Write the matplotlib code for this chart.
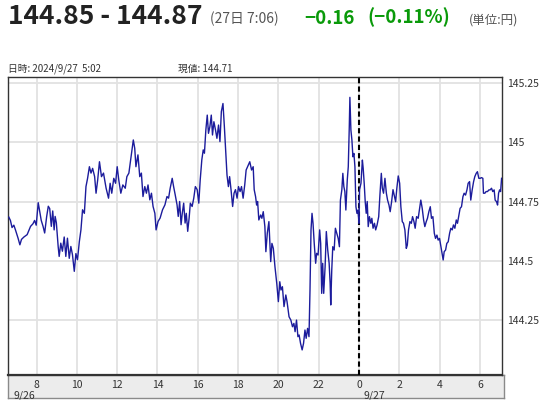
import matplotlib
matplotlib.use("Agg")
import matplotlib.pyplot as plt
import matplotlib.transforms as mtransforms

plt.rcParams['font.family'] = ['Noto Sans CJK JP', 'DejaVu Sans']

# hours counted from 2024/9/26 0:00
hours = [
    6.62, 6.70, 6.78, 6.87, 6.95, 7.08, 7.17, 7.25, 7.37, 7.53, 7.70, 7.82, 7.90, 7.98,
    8.08, 8.15, 8.23, 8.32, 8.40, 8.50, 8.58, 8.65, 8.73, 8.80, 8.87, 8.92, 8.98,
    9.07, 9.12, 9.20, 9.28, 9.37, 9.45, 9.53, 9.62, 9.70, 9.78, 9.87, 9.95,
    10.03, 10.12, 10.20, 10.28, 10.37, 10.45, 10.53, 10.62, 10.70, 10.78, 10.88, 10.95,
    11.03, 11.12, 11.22, 11.32, 11.45, 11.57, 11.65, 11.73, 11.83, 11.92,
    12.00, 12.08, 12.18, 12.28, 12.40, 12.48, 12.58,
    12.67, 12.80, 12.87, 12.93, 13.03, 13.12, 13.20, 13.28, 13.37, 13.45, 13.53, 13.62,
    13.70, 13.78, 13.87, 13.93, 14.03, 14.13, 14.25, 14.37, 14.47, 14.55, 14.63, 14.73,
    14.80, 14.88, 14.97, 15.03, 15.10, 15.17, 15.23, 15.30, 15.37, 15.43, 15.50, 15.57,
    15.63, 15.72, 15.80, 15.88, 15.97, 16.05, 16.12, 16.20, 16.27, 16.33, 16.40, 16.47,
    16.53, 16.60, 16.67, 16.73, 16.80, 16.88, 16.95, 17.03, 17.10, 17.17, 17.25, 17.32,
    17.38, 17.45, 17.52, 17.58, 17.65, 17.73, 17.80, 17.87, 17.95, 18.02, 18.10, 18.17,
    18.25, 18.33, 18.40, 18.47,
    18.58, 18.67, 18.75, 18.80, 18.87, 18.92, 18.97, 19.03, 19.12, 19.18, 19.25, 19.33,
    19.38, 19.45, 19.53, 19.62, 19.68, 19.75, 19.83, 19.92, 20.00, 20.07, 20.13, 20.20,
    20.28, 20.37, 20.43, 20.53, 20.62, 20.70, 20.77, 20.83, 20.90, 20.97, 21.03, 21.10,
    21.18, 21.25, 21.32, 21.38, 21.45, 21.52, 21.57, 21.62, 21.67, 21.72, 21.78, 21.85,
    21.90, 21.97, 22.05, 22.10, 22.15, 22.20, 22.25, 22.32, 22.38, 22.45, 22.52, 22.57,
    22.60, 22.65, 22.70, 22.77, 22.83, 22.90, 22.97, 23.03, 23.08, 23.15, 23.20, 23.25,
    23.30, 23.35, 23.42, 23.47, 23.52, 23.55, 23.60, 23.65, 23.70, 23.75, 23.80, 23.85,
    23.90, 23.95, 24.00,
    24.03, 24.10, 24.17, 24.21, 24.26, 24.31, 24.36, 24.41, 24.46, 24.52, 24.59, 24.64,
    24.70, 24.77, 24.83, 24.90, 24.98, 25.04, 25.11, 25.16, 25.22, 25.29, 25.36, 25.42,
    25.49, 25.55, 25.62, 25.69, 25.75, 25.82, 25.88, 25.95, 26.02, 26.08, 26.15, 26.21,
    26.28, 26.35, 26.40, 26.46, 26.53, 26.60, 26.66, 26.73, 26.79, 26.86, 26.94, 27.01,
    27.07, 27.14, 27.21, 27.27, 27.34, 27.40, 27.47, 27.54, 27.60, 27.67, 27.74, 27.80,
    27.87, 27.93, 28.00, 28.07, 28.13, 28.18, 28.23, 28.30, 28.36, 28.43, 28.50, 28.56,
    28.63, 28.69, 28.76, 28.83, 28.89, 28.96, 29.02, 29.09, 29.16, 29.22, 29.29, 29.36,
    29.42, 29.49, 29.55, 29.62, 29.69, 29.75, 29.82, 29.88, 29.95, 30.02, 30.08, 30.15,
    30.18, 30.25, 30.31, 30.38, 30.45, 30.51, 30.58, 30.64, 30.71, 30.76, 30.83, 30.88,
    30.93, 30.98, 31.03, 31.08,
]

prices = [
    144.684, 144.670, 144.640, 144.650, 144.630, 144.595, 144.567, 144.590, 144.600, 144.610, 144.645, 144.656, 144.670, 144.650,
    144.745, 144.710, 144.670, 144.645, 144.617, 144.687, 144.730, 144.720, 144.645, 144.710, 144.630, 144.687, 144.660,
    144.560, 144.518, 144.574, 144.540, 144.600, 144.518, 144.595, 144.510, 144.560, 144.525, 144.455, 144.530,
    144.504, 144.580, 144.630, 144.715, 144.700, 144.813, 144.848, 144.897, 144.870, 144.890, 144.855, 144.785,
    144.840, 144.918, 144.855, 144.870, 144.806, 144.764, 144.827, 144.785, 144.848, 144.827,
    144.897, 144.840, 144.785, 144.820, 144.806, 144.855, 144.870,
    144.926, 145.010, 144.975, 144.897, 144.947, 144.855, 144.870, 144.771, 144.813, 144.785, 144.820, 144.757,
    144.785, 144.729, 144.700, 144.630, 144.666, 144.680, 144.715, 144.736, 144.771, 144.764, 144.806, 144.848,
    144.813, 144.778, 144.736, 144.687, 144.750, 144.652, 144.700, 144.743, 144.659, 144.700, 144.624, 144.680,
    144.743, 144.729, 144.764, 144.813, 144.800, 144.743, 144.841, 144.926, 144.968, 144.954, 145.052, 145.115,
    145.038, 145.066, 145.115, 145.031, 145.087, 145.052, 145.017, 145.073, 145.003, 145.130, 145.164, 145.066,
    144.968, 144.862, 144.813, 144.855, 144.800, 144.729, 144.785, 144.800, 144.764, 144.813, 144.792, 144.813,
    144.764, 144.820, 144.883, 144.897,
    144.918, 144.883, 144.897, 144.800, 144.770, 144.735, 144.750, 144.672, 144.693, 144.679, 144.707, 144.644,
    144.538, 144.616, 144.665, 144.496, 144.573, 144.552, 144.475, 144.404, 144.327, 144.411, 144.376, 144.390,
    144.306, 144.355, 144.327, 144.263, 144.249, 144.221, 144.235, 144.200, 144.249, 144.179, 144.186, 144.151,
    144.123, 144.151, 144.207, 144.172, 144.214, 144.179, 144.376, 144.630, 144.700, 144.658, 144.573, 144.489,
    144.531, 144.524, 144.630, 144.573, 144.362, 144.489, 144.362, 144.475, 144.623, 144.545, 144.489, 144.404,
    144.313, 144.461, 144.559, 144.545, 144.637, 144.616, 144.594, 144.559, 144.756, 144.799, 144.869, 144.813,
    144.792, 144.714, 144.841, 144.897, 145.066, 145.190, 145.052, 145.010, 144.939, 144.953, 144.897, 144.728,
    144.700, 144.714, 144.658,
    144.800, 144.827, 144.925, 144.890, 144.827, 144.750, 144.700, 144.750, 144.644, 144.686, 144.658, 144.679,
    144.637, 144.658, 144.630, 144.651, 144.686, 144.777, 144.869, 144.806, 144.785, 144.848, 144.785, 144.756,
    144.735, 144.707, 144.749, 144.800, 144.777, 144.749, 144.806, 144.858, 144.827, 144.728, 144.665, 144.658,
    144.630, 144.552, 144.566, 144.630, 144.665, 144.658, 144.686, 144.665, 144.637, 144.686, 144.679, 144.721,
    144.756, 144.721, 144.672, 144.644, 144.665, 144.679, 144.707, 144.728, 144.679, 144.686, 144.616, 144.594,
    144.608, 144.587, 144.594, 144.559, 144.531, 144.503, 144.538, 144.545, 144.573, 144.580, 144.616, 144.637,
    144.630, 144.651, 144.637, 144.672, 144.658, 144.693, 144.721, 144.728, 144.770, 144.785, 144.777, 144.799,
    144.827, 144.834, 144.756, 144.799, 144.834, 144.855, 144.869, 144.876, 144.848, 144.848, 144.851, 144.848,
    144.785, 144.785, 144.792, 144.792, 144.799, 144.799, 144.806, 144.792, 144.799, 144.756, 144.749, 144.735,
    144.785, 144.799, 144.792, 144.848,
]

x_ticks = [8, 10, 12, 14, 16, 18, 20, 22, 24, 26, 28, 30]
x_tick_labels = ['8', '10', '12', '14', '16', '18', '20', '22', '0', '2', '4', '6']
y_ticks = [144.25, 144.5, 144.75, 145.0, 145.25]
y_tick_labels = ['144.25', '144.5', '144.75', '145', '145.25']

W, H = 557, 400
fig = plt.figure(figsize=(W / 100, H / 100), dpi=100)

# gray band under the plot for the time axis
band = fig.add_axes([8 / W, 2 / H, 496 / W, 23 / H])
band.set_facecolor('#ececec')
band.set_xticks([])
band.set_yticks([])
for s in band.spines.values():
    s.set_color('#8a8a8a')
    s.set_linewidth(1)

ax = fig.add_axes([8 / W, 25 / H, 494 / W, 298 / H])
ax.set_xlim(6.58, 31.1)
ax.set_ylim(144.017, 145.276)
ax.grid(True, color='#e2e2e2', linewidth=1.3)
ax.set_axisbelow(True)
ax.axvline(24, color='black', linewidth=1.5, linestyle=(0, (2.5, 1.5)), zorder=3)
ax.plot(hours, prices, color='#1c1c9c', linewidth=1.0, zorder=4)

ax.set_xticks(x_ticks)
ax.set_xticklabels(x_tick_labels)
ax.set_yticks(y_ticks)
ax.set_yticklabels(y_tick_labels)
ax.yaxis.tick_right()
ax.tick_params(axis='x', length=0, pad=3.5, labelsize=7.5, labelcolor='#333333')
ax.tick_params(axis='y', length=0, pad=4, labelsize=7.5, labelcolor='#333333')
for side, s in ax.spines.items():
    s.set_color('#333333')
    s.set_linewidth(1.0)
ax.spines['bottom'].set_linewidth(1.6)

trans = mtransforms.blended_transform_factory(ax.transData, ax.transAxes)
ax.text(0.012, -0.068, '9/26', transform=ax.transAxes, fontsize=7.5,
        color='#333333', ha='left', va='center')
ax.text(24.25, -0.068, '9/27', transform=trans, fontsize=7.5,
        color='#333333', ha='left', va='center')

# header
base = 1 - 23.5 / H
fig.text(8 / W, base, '144.85 - 144.87', fontsize=19, fontweight='bold',
         color='#222222', va='baseline', ha='left')
fig.text(210 / W, base, '(27日 7:06)', fontsize=10, color='#555555',
         va='baseline', ha='left')
fig.text(304 / W, base, '−0.16', fontsize=13.5, fontweight='bold',
         color='#0a9a0a', va='baseline', ha='left')
fig.text(367 / W, base, '(−0.11%)', fontsize=13.5, fontweight='bold',
         color='#0a9a0a', va='baseline', ha='left')
fig.text(469 / W, base, '(単位:円)', fontsize=9, color='#555555',
         va='baseline', ha='left')
fig.text(8 / W, 1 - 72 / H, '日時: 2024/9/27  5:02', fontsize=7, color='#333333',
         va='baseline', ha='left')
fig.text(178 / W, 1 - 72 / H, '現値: 144.71', fontsize=7, color='#333333',
         va='baseline', ha='left')

fig.savefig('out.png', dpi=100)
